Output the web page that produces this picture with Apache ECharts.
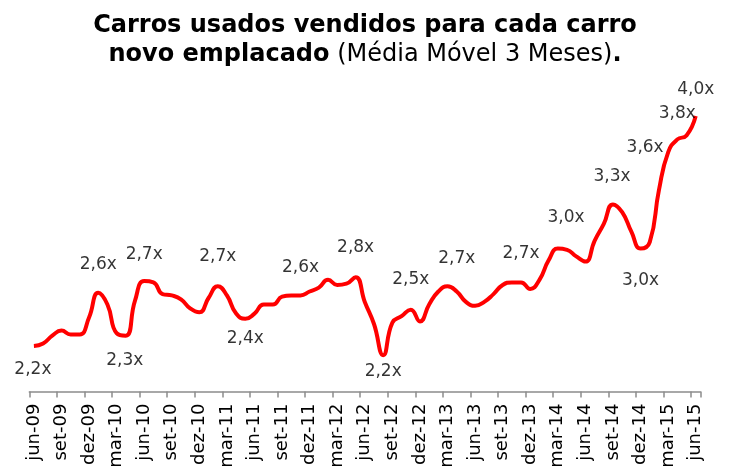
<!DOCTYPE html>
<html lang="pt-BR">

<head>
  <meta charset="UTF-8">
  <title>Carros usados por carro novo</title>
  <script src="https://cdn.jsdelivr.net/npm/echarts@6/dist/echarts.min.js"></script>
  <style>
    * {
      padding: 0;
      margin: 0;
    }

    #box {
      width: 730px;
      height: 466px;
      background: #fff;
    }
  </style>
</head>

<body>
  <div id="box"></div>
  <script>
    // meses: jun-09 ... jun-15 (media movel 3 meses)
    var monthNames = ['jan', 'fev', 'mar', 'abr', 'mai', 'jun', 'jul', 'ago', 'set', 'out', 'nov', 'dez']
    var startYear = 2009, startMonth = 5, monthCount = 73

    // usados vendidos por novo emplacado
    var ratio = [
      2.23, 2.25, 2.31, 2.35, 2.32, 2.32, 2.45, 2.64, 2.55, 2.33,
      2.31, 2.58, 2.73, 2.72, 2.63, 2.62, 2.59, 2.52, 2.49, 2.60,
      2.69, 2.62, 2.48, 2.44, 2.48, 2.55, 2.55, 2.61, 2.62, 2.62,
      2.65, 2.68, 2.74, 2.70, 2.71, 2.76, 2.57, 2.40, 2.16, 2.41,
      2.46, 2.51, 2.42, 2.55, 2.65, 2.69, 2.65, 2.57, 2.54, 2.57,
      2.63, 2.70, 2.72, 2.72, 2.67, 2.74, 2.89, 2.98, 2.97, 2.92,
      2.88, 3.04, 3.17, 3.32, 3.26, 3.11, 2.98, 3.03, 3.43, 3.72,
      3.82, 3.85, 4.00
    ]

    // rotulos destacados no grafico
    var labelIdx = [0, 7, 10, 12, 20, 23, 29, 35, 38, 41, 46, 53, 58, 63, 66, 69, 70, 72]
    var labelText = ['2,2x', '2,6x', '2,3x', '2,7x', '2,7x', '2,4x', '2,6x', '2,8x', '2,2x',
      '2,5x', '2,7x', '2,7x', '3,0x', '3,3x', '3,0x', '3,6x', '3,8x', '4,0x']

    var categories = []
    for (let i = 0; i < monthCount; i++) {
      let m = (startMonth + i) % 12
      let y = startYear + Math.floor((startMonth + i) / 12)
      categories.push(monthNames[m] + '-' + String(y).slice(2))
    }

    // deslocamento de cada rotulo em relacao ao ponto
    var labelOffsets = [
      [-1, 23], [0, -28], [-1, 25], [0, -27], [0, -30], [0, 20], [0, -28], [0, -30], [0, 16],
      [0, -30], [0, -33], [0, -29], [-1, -32], [-1, -28], [0, 32], [-23, -5], [0, -26], [0, -26]
    ]

    var labelData = []
    for (let k = 0; k < labelIdx.length; k++) {
      labelData.push({
        value: [labelIdx[k], ratio[labelIdx[k]]],
        label: {
          show: true,
          position: 'inside',
          offset: labelOffsets[k],
          formatter: labelText[k],
          color: '#000',
          textBorderWidth: 0
        }
      })
    }

    var mCharts = echarts.init(document.getElementById('box'))
    var option = {
      backgroundColor: '#fff',
      animation: false,
      title: {
        left: 'center',
        top: 6,
        text: '{b|Carros usados vendidos para cada carro}\n{b|novo emplacado}{n| (Média Móvel 3 Meses)}{b|.}',
        textStyle: {
          rich: {
            b: { fontFamily: 'DejaVu Sans', fontWeight: 'bold', fontSize: 24, color: '#000', lineHeight: 29 },
            n: { fontFamily: 'DejaVu Sans', fontWeight: 'normal', fontSize: 24, color: '#000', lineHeight: 29 }
          }
        }
      },
      grid: {
        left: 29.3,
        right: 29.7,
        top: 90,
        bottom: 74.4,
        containLabel: false,
        outerBoundsMode: 'none'
      },
      xAxis: {
        type: 'category',
        data: categories,
        axisLine: { show: true, onZero: false, lineStyle: { color: '#8c8c8c', width: 1.5 } },
        axisTick: { show: true, alignWithLabel: false, interval: 2, length: 6, lineStyle: { color: '#8c8c8c', width: 1.5 } },
        axisLabel: {
          interval: 2,
          rotate: 90,
          margin: 12,
          color: '#000',
          fontFamily: 'DejaVu Sans',
          fontSize: 18
        }
      },
      yAxis: {
        type: 'value',
        show: false,
        min: 1.88,
        max: 4.2,
        splitLine: { show: false }
      },
      series: [{
        type: 'line',
        data: ratio,
        smooth: 0.5,
        showSymbol: false,
        lineStyle: { color: '#ff0000', width: 4 },
        z: 2
      }, {
        type: 'scatter',
        data: labelData,
        symbolSize: 1,
        itemStyle: { color: 'transparent' },
        label: {
          color: '#000',
          fontFamily: 'DejaVu Sans',
          fontSize: 17
        },
        z: 3
      }]
    }
    mCharts.setOption(option)
  </script>
</body>

</html>
